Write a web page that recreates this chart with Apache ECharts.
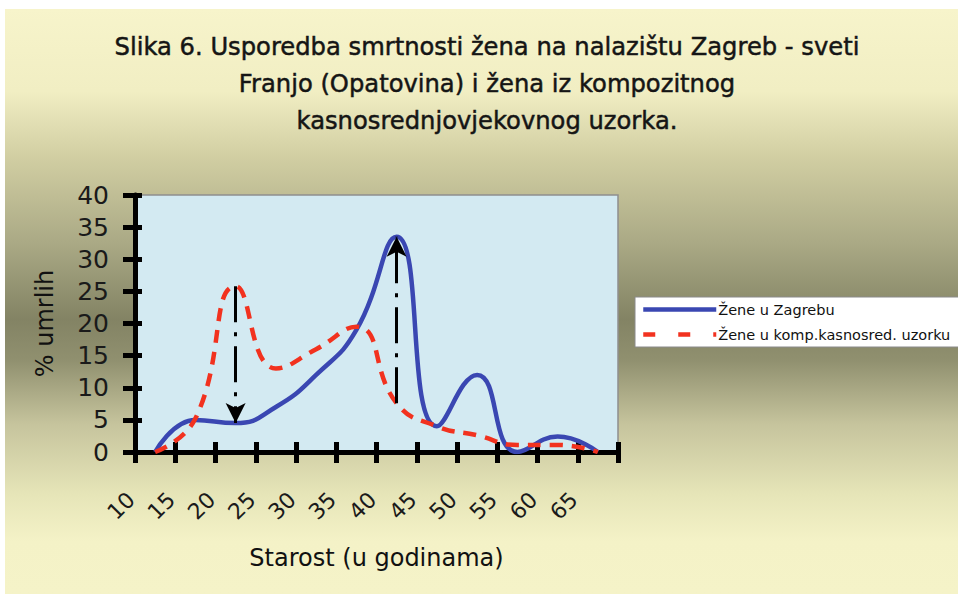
<!DOCTYPE html>
<html>
<head>
<meta charset="utf-8">
<style>
  html, body { margin: 0; padding: 0; background: #ffffff; }
  #chart { width: 958px; height: 594px; }
</style>
<script src="https://cdn.jsdelivr.net/npm/echarts@6/dist/echarts.min.js"></script>
</head>
<body>
<div id="chart"></div>
<script>
// Age groups (years) on the category axis
const ageGroups = ['10', '15', '20', '25', '30', '35', '40', '45', '50', '55', '60', '65'];
// Share of deaths (%) per age group
const zeneZagreb = [0, 5, 4.5, 7, 12, 19, 33.5, 4, 12, 0, 2.4, 0];
const zeneKomp   = [0, 5.2, 25.8, 13, 16, 19.5, 7.6, 4, 2.6, 1.1, 1.1, 0];
// Age groups where the difference between the two samples is marked with an arrow
const arrowGroups = ['20', '40'];
const yTicks = { min: 0, max: 40, step: 5 };

const seriesNames = ['Žene u Zagrebu', 'Žene u komp.kasnosred. uzorku'];
const titleLines = [
  'Slika 6. Usporedba smrtnosti žena na nalazištu Zagreb - sveti',
  'Franjo (Opatovina) i žena iz kompozitnog',
  'kasnosrednjovjekovnog uzorka.'
];

const BASE_FONT = '"DejaVu Sans", "Noto Sans", sans-serif';
const TITLE_FONT = '25px "DejaVu Sans", sans-serif';
const TITLE_WIDTH = 745;   // the title is set in a narrowed face

// squeeze factor so that the longest title line spans TITLE_WIDTH
const measureCtx = document.createElement('canvas').getContext('2d');
measureCtx.font = TITLE_FONT;
const titleScaleX = TITLE_WIDTH / measureCtx.measureText(titleLines[0]).width;

const chart = echarts.init(document.getElementById('chart'), null, { renderer: 'svg' });

// arrow from the composite-sample value to the Zagreb value in the same age group
const arrowLines = arrowGroups.map(g => {
  const i = ageGroups.indexOf(g);
  return [{ coord: [g, zeneKomp[i]] }, { coord: [g, zeneZagreb[i]] }];
});

const option = {
  backgroundColor: '#ffffff',
  animation: false,
  graphic: [
    {
      type: 'rect',
      z: -10,
      silent: true,
      shape: { x: 5, y: 9, width: 953, height: 585 },
      style: {
        fill: new echarts.graphic.LinearGradient(0, 0, 0, 1, [
          { offset: 0.00, color: '#f7f4cb' },
          { offset: 0.14, color: '#f1eec3' },
          { offset: 0.25, color: '#d2cfa3' },
          { offset: 0.40, color: '#aaa985' },
          { offset: 0.53, color: '#838364' },
          { offset: 0.60, color: '#90906f' },
          { offset: 0.71, color: '#c6c49d' },
          { offset: 0.83, color: '#e6e5b8' },
          { offset: 0.91, color: '#f4f2c7' },
          { offset: 1.00, color: '#f5f3c8' }
        ])
      }
    },
    {
      type: 'text',
      silent: true,
      x: 487,
      y: 28,
      scaleX: titleScaleX,
      style: {
        text: titleLines.join('\n'),
        textAlign: 'center',
        fill: '#151515',
        stroke: '#151515',
        lineWidth: 0.5,
        font: TITLE_FONT,
        lineHeight: 37
      }
    }
  ],
  grid: {
    left: 135, top: 195, width: 483, height: 257,
    show: true,
    backgroundColor: '#d3eaf2',
    borderColor: '#8e8e8e',
    borderWidth: 1.5
  },
  legend: {
    orient: 'vertical',
    left: 635,
    top: 297,
    itemWidth: 73,
    itemHeight: 14,
    itemGap: 10,
    padding: [5, 20, 5, 6],
    backgroundColor: '#ffffff',
    borderColor: '#8a8a8a',
    borderWidth: 1,
    itemStyle: { opacity: 0 },
    lineStyle: { width: 4.5 },
    textStyle: { fontFamily: BASE_FONT, fontSize: 14.5, color: '#111', padding: [0, 0, 0, -3] },
    data: [
      { name: seriesNames[0] },
      { name: seriesNames[1], lineStyle: { type: [12, 23], width: 4.5 } }
    ]
  },
  xAxis: [
    {
      type: 'category',
      data: ageGroups,
      boundaryGap: true,
      axisLine: { show: true, lineStyle: { color: '#000', width: 5 } },
      axisTick: { show: true, interval: 0, length: 11, lineStyle: { color: '#000', width: 5 } },
      axisLabel: {
        interval: 0, rotate: 45, margin: 20,
        padding: [0, 34, 0, 0],
        fontFamily: BASE_FONT, fontSize: 22, color: '#1a1a1a'
      },
      name: 'Starost (u godinama)',
      nameLocation: 'middle',
      nameGap: 94,
      nameTextStyle: { fontFamily: BASE_FONT, fontSize: 24, color: '#111' }
    },
    {
      type: 'category',
      data: ageGroups,
      boundaryGap: true,
      position: 'bottom',
      axisLine: { show: false },
      axisTick: { show: true, inside: true, interval: 0, length: 10, lineStyle: { color: '#000', width: 5 } },
      axisLabel: { show: false }
    }
  ],
  yAxis: [
    {
      type: 'value',
      min: yTicks.min, max: yTicks.max, interval: yTicks.step,
      splitLine: { show: false },
      axisLine: { show: true, lineStyle: { color: '#000', width: 5 } },
      axisTick: { show: true, length: 12, lineStyle: { color: '#000', width: 5 } },
      axisLabel: { margin: 26, fontFamily: BASE_FONT, fontSize: 25, color: '#1a1a1a' },
      name: '% umrlih',
      nameLocation: 'middle',
      nameGap: 78,
      nameTextStyle: { fontFamily: BASE_FONT, fontSize: 24, color: '#111' }
    },
    {
      type: 'value',
      min: yTicks.min, max: yTicks.max, interval: yTicks.step,
      position: 'left',
      splitLine: { show: false },
      axisLine: { show: false },
      axisTick: { show: true, inside: true, length: 7, lineStyle: { color: '#000', width: 5 } },
      axisLabel: { show: false }
    }
  ],
  series: [
    {
      name: seriesNames[0],
      type: 'line',
      data: zeneZagreb,
      smooth: 0.5,
      symbol: 'none',
      lineStyle: { color: '#3a47b2', width: 4.5 },
      itemStyle: { color: '#3a47b2' },
      markLine: {
        silent: true,
        symbol: ['none', 'arrow'],
        symbolSize: [15, 20],
        label: { show: false },
        lineStyle: { color: '#000', width: 3, type: [36, 10, 4, 10] },
        data: arrowLines
      },
      z: 3
    },
    {
      name: seriesNames[1],
      type: 'line',
      data: zeneKomp,
      smooth: 0.5,
      symbol: 'none',
      lineStyle: { color: '#f2321f', width: 4.5, type: [13, 9] },
      itemStyle: { color: '#f2321f' },
      z: 4
    }
  ]
};

chart.setOption(option);
</script>
</body>
</html>
